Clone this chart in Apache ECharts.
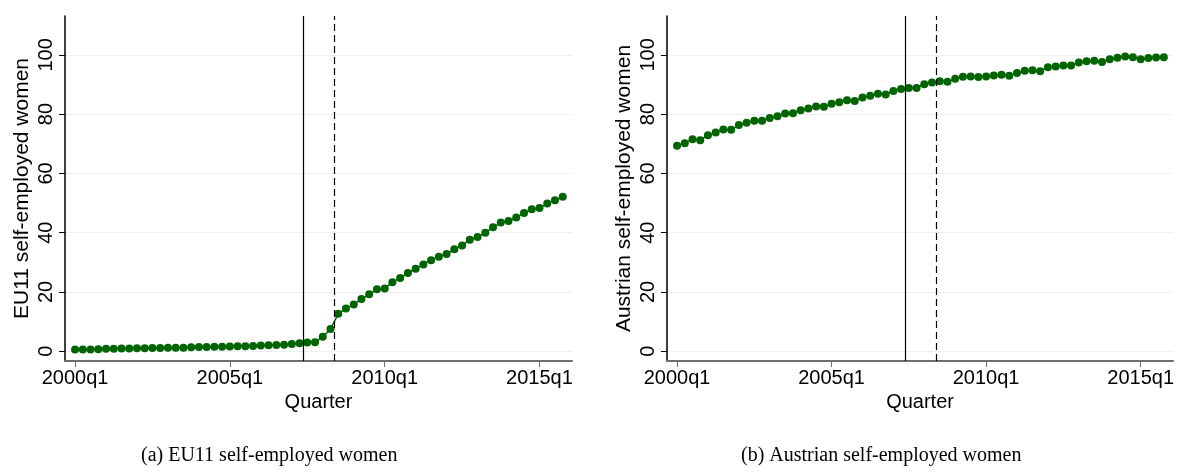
<!DOCTYPE html>
<html>
<head>
<meta charset="utf-8">
<script src="https://cdn.jsdelivr.net/npm/echarts@6/dist/echarts.min.js"></script>
<style>
  html, body { margin: 0; padding: 0; background: #fff; }
  #chart { width: 1177px; height: 475px; }
</style>
</head>
<body>
<div id="chart"></div>
<script>
// ---------- data ----------
const startYear = 2000;
const quarters = [];
for (let y = startYear; y < startYear + 16; y++) {
  for (let q = 1; q <= 4; q++) quarters.push(y + 'q' + q);
}

const eu11Women = [
  0.6, 0.6, 0.6, 0.7, 0.8, 0.8, 0.9, 0.9, 1.0, 1.0,
  1.1, 1.1, 1.2, 1.2, 1.2, 1.3, 1.4, 1.4, 1.5, 1.5,
  1.6, 1.7, 1.7, 1.8, 1.9, 2.0, 2.1, 2.2, 2.4, 2.7,
  2.9, 3.0, 4.9, 7.5, 12.6, 14.4, 15.8, 17.6, 19.2, 20.9,
  21.2, 23.3, 24.7, 26.4, 27.8, 29.3, 30.7, 31.9, 32.8, 34.4,
  35.7, 37.6, 38.5, 40.0, 41.8, 43.4, 43.9, 45.1, 46.6, 47.9,
  48.3, 49.8, 50.9, 52.1
];

const austrianWomen = [
  69.3, 70.2, 71.5, 71.2, 72.9, 73.8, 74.8, 74.7, 76.3, 77.1,
  77.8, 77.8, 78.7, 79.3, 80.2, 80.3, 81.3, 81.9, 82.6, 82.5,
  83.5, 84.0, 84.7, 84.4, 85.6, 86.2, 86.9, 86.6, 87.8, 88.5,
  88.8, 88.8, 90.1, 90.7, 91.1, 90.9, 91.9, 92.6, 92.7, 92.5,
  92.7, 93.0, 93.3, 92.9, 93.9, 94.6, 94.8, 94.5, 95.8, 96.1,
  96.4, 96.4, 97.4, 97.8, 98.0, 97.6, 98.5, 99.0, 99.4, 99.2,
  98.5, 98.9, 99.1, 99.2
];

const xTickQuarters = ['2000q1', '2005q1', '2010q1', '2015q1'];
const yTicks = [0, 20, 40, 60, 80, 100];
const eventLines = [29.5, 33.5]; // between 2007q2/q3 (solid) and 2008q2/q3 (dashed)

const yTitles = ['EU11 self-employed women', 'Austrian self-employed women'];
const captions = ['(a) EU11 self-employed women', '(b) Austrian self-employed women'];

// ---------- chart ----------
const GREEN = '#006400';
const FONT = 'Liberation Sans, Arial, sans-serif';
const panelLeft = [65, 667];
const captionCenter = [271, 871];

const xTickIdx = xTickQuarters.map(q => quarters.indexOf(q));

function pairs(vals) { return vals.map((v, i) => [i, v]); }

const grids = [], xAxes = [], yAxes = [], series = [];
[eu11Women, austrianWomen].forEach((vals, k) => {
  grids.push({ left: panelLeft[k], top: 16, width: 507, height: 345, containLabel: false });
  xAxes.push({
    gridIndex: k, type: 'value', min: -1.3, max: 64.2,
    name: 'Quarter', nameLocation: 'middle', nameGap: 27,
    nameTextStyle: { fontFamily: FONT, fontSize: 20, color: '#000' },
    axisLine: { onZero: false, lineStyle: { color: '#6f6f6f', width: 2 } },
    axisTick: { show: true, length: 6, customValues: xTickIdx, lineStyle: { color: '#6f6f6f', width: 1 } },
    axisLabel: {
      customValues: xTickIdx, margin: 7,
      formatter: v => quarters[Math.round(v)],
      fontFamily: FONT, fontSize: 20, color: '#000'
    },
    splitLine: { show: false }
  });
  yAxes.push({
    gridIndex: k, type: 'value', min: -3.3, max: 113.1,
    name: yTitles[k], nameLocation: 'middle', nameGap: 32, nameRotate: 90,
    nameTextStyle: { fontFamily: FONT, fontSize: 21, color: '#000' },
    axisLine: { onZero: false, lineStyle: { color: '#000', width: 1.5 } },
    axisTick: { show: true, length: 6, customValues: yTicks, lineStyle: { color: '#000', width: 1 } },
    axisLabel: {
      customValues: yTicks, rotate: 90, margin: 9,
      fontFamily: FONT, fontSize: 20, color: '#000'
    },
    splitLine: { show: true, lineStyle: { color: '#eaf0f3', width: 1.2 } }
  });
  series.push({
    type: 'line', xAxisIndex: k, yAxisIndex: k,
    data: pairs(vals),
    symbol: 'circle', symbolSize: 8,
    itemStyle: { color: GREEN },
    lineStyle: { color: GREEN, width: 1.5 },
    z: 3,
    markLine: {
      silent: true, symbol: ['none', 'none'], label: { show: false }, animation: false,
      data: [
        { xAxis: eventLines[0], lineStyle: { color: '#000', width: 1.2, type: 'solid' } },
        { xAxis: eventLines[1], lineStyle: { color: '#000', width: 1.2, type: [7, 4] } }
      ]
    }
  });
});

const chart = echarts.init(document.getElementById('chart'), null, { renderer: 'canvas' });
chart.setOption({
  animation: false,
  backgroundColor: '#fff',
  grid: grids, xAxis: xAxes, yAxis: yAxes, series: series,
  graphic: captions.map((t, k) => ({
    type: 'text', left: captionCenter[k] - 130, top: 446,
    style: { text: t, font: '20px "Liberation Serif", "Times New Roman", serif', fill: '#000', width: 260, align: 'center' }
  }))
});
</script>
</body>
</html>
